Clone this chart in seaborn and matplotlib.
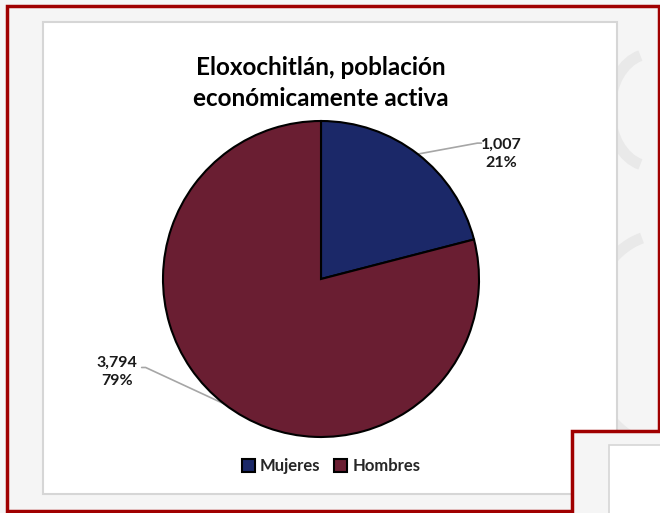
import numpy as np
import matplotlib
matplotlib.use("Agg")
import matplotlib.pyplot as plt
from matplotlib.patches import Rectangle, Arc
import seaborn as sns

# Datos
categorias = ["Mujeres", "Hombres"]
valores = [1007, 3794]
colores = ["#1b2868", "#6a1e32"]
titulo = "Eloxochitlán, población\neconómicamente activa"

sns.set_theme(style="white")
plt.rcParams["font.family"] = ["Lato", "DejaVu Sans"]

fig = plt.figure(figsize=(6.6, 5.13), dpi=100)
fig.patch.set_facecolor("#f5f5f5")

# Fondo / marcos decorativos en coordenadas de pixel
bg = fig.add_axes([0, 0, 1, 1])
bg.set_xlim(0, 660)
bg.set_ylim(513, 0)
bg.axis("off")
for cx, cy, w in [(650, 110, 80), (660, 340, 150)]:
    bg.add_patch(Arc((cx, cy), w, w * 1.4, theta1=100, theta2=260,
                     color="#e6e6e6", lw=8, alpha=0.8, zorder=0))
bg.add_patch(Rectangle((7, 6), 652, 505, fill=False, ec="#a00000", lw=2.5, zorder=1))
bg.add_patch(Rectangle((43, 22), 574, 472, fc="white", ec="#d6d6d6", lw=1.5, zorder=2))
bg.add_patch(Rectangle((572, 431), 100, 100, fc="#f5f5f5", ec="#a00000", lw=2.5, zorder=3))
bg.add_patch(Rectangle((609, 445), 60, 80, fc="white", ec="#d6d6d6", lw=1.2, zorder=4))

# Pastel
ax = fig.add_axes([163 / 660, 76 / 513, 316 / 660, 316 / 513])
wedges, _ = ax.pie(valores, colors=colores, startangle=90, counterclock=False,
                   wedgeprops=dict(edgecolor="black", linewidth=1.5))
ax.set_xlim(-1, 1)
ax.set_ylim(-1, 1)
ax.set_facecolor("none")

total = sum(valores)
textos = [f"{v:,}\n{round(100 * v / total)}%" for v in valores]
pos_texto = [(1.14, 0.79), (-1.29, -0.59)]
pos_codo = [(0.99, 0.86), (-1.11, -0.56)]
for w, t, (tx, ty), (ex, ey) in zip(wedges, textos, pos_texto, pos_codo):
    ang = np.deg2rad((w.theta1 + w.theta2) / 2)
    x0, y0 = np.cos(ang), np.sin(ang)
    sgn = 1 if ex > 0 else -1
    ax.plot([x0, ex, ex + 0.025 * sgn], [y0, ey, ey], color="#a6a6a6",
            lw=1.2, clip_on=False, zorder=0)
    ax.text(tx, ty, t, ha="center", va="center", fontsize=11.5, fontweight="bold",
            color="#1a1a1a", linespacing=1.35)

fig.text(321 / 660, 1 - 83 / 513, titulo, ha="center", va="center",
         fontsize=17.5, fontweight="bold", color="black", linespacing=1.4)

fig.legend(wedges, categorias, loc="center", bbox_to_anchor=(331 / 660, 1 - 466 / 513),
           ncol=2, frameon=False, handlelength=0.8, handleheight=0.8,
           handletextpad=0.3, columnspacing=0.8,
           prop=dict(weight="bold", size=12))

fig.savefig("out.png", dpi=100, facecolor=fig.get_facecolor())
